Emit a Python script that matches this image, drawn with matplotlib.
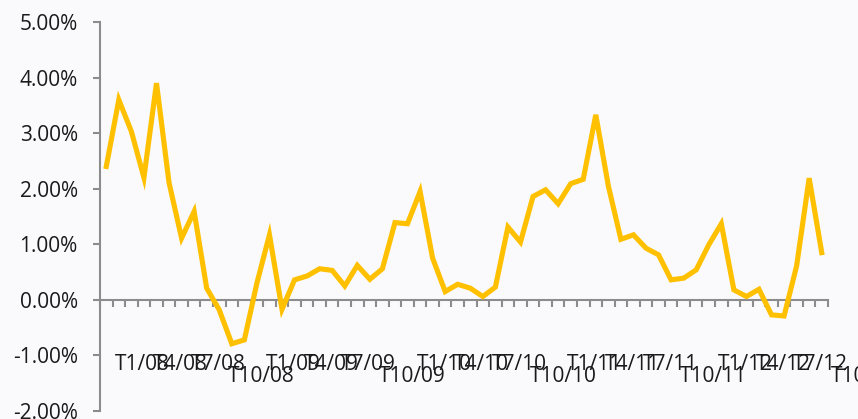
import matplotlib
matplotlib.use("Agg")
import matplotlib.pyplot as plt
import matplotlib.transforms as mtransforms
import numpy as np

# Variacion mensual, ene-2008 a oct-2012 (en %)
valores = [
    2.40, 3.60, 3.03, 2.20, 3.90, 2.11, 1.11, 1.59, 0.21, -0.18, -0.79, -0.72,
    0.30, 1.17, -0.17, 0.36, 0.43, 0.56, 0.53, 0.25, 0.62, 0.37, 0.56, 1.39,
    1.37, 1.95, 0.75, 0.15, 0.28, 0.21, 0.06, 0.23, 1.31, 1.04, 1.86, 1.98,
    1.73, 2.09, 2.17, 3.33, 2.05, 1.09, 1.17, 0.93, 0.81, 0.36, 0.39, 0.54,
    0.99, 1.37, 0.18, 0.06, 0.19, -0.27, -0.29, 0.61, 2.19, 0.85,
]
anios = ["08", "09", "10", "11", "12"]
meses = ["T1", "T4", "T7", "T10"]
etiquetas = [f"{m}/{a}" for a in anios for m in meses]
y_ticks = [-2, -1, 0, 1, 2, 3, 4, 5]

GRIS = "#8c8c8c"
ORO = "#FFC000"

plt.rcParams["font.family"] = ["Open Sans", "DejaVu Sans"]

fig = plt.figure(figsize=(8.58, 4.19), dpi=100, facecolor="#fafafc")
ax = fig.add_axes([100 / 858, 8 / 419, 728 / 858, 389 / 419])
ax.set_facecolor("none")

x = np.arange(len(valores))
ax.plot(x, valores, color=ORO, lw=3.7, solid_joinstyle="miter", zorder=3)

ax.set_xlim(-0.5, len(valores) - 0.5)
ax.set_ylim(-2, 5)

# ejes
for s in ["top", "right"]:
    ax.spines[s].set_visible(False)
ax.spines["bottom"].set_position(("data", 0))
ax.spines["bottom"].set_color(GRIS)
ax.spines["bottom"].set_linewidth(1.5)
ax.spines["left"].set_color(GRIS)
ax.spines["left"].set_linewidth(1.5)

ax.set_yticks(y_ticks)
ax.set_yticklabels([f"{v:.2f}%" for v in y_ticks])
ax.tick_params(axis="y", direction="out", length=5, width=1.5, color=GRIS,
               pad=11, labelsize=15, labelcolor="#1a1a1a")

ax.set_xticks(np.arange(-0.5, len(valores), 1.0))
ax.set_xticklabels([])
ax.tick_params(axis="x", direction="out", length=5, width=1.5, color=GRIS)

# etiquetas de categoria, cada 3 meses; T10 en segunda fila
off = mtransforms.ScaledTranslation(9 / 100, 0, fig.dpi_scale_trans)
for i, lab in enumerate(etiquetas):
    fila2 = lab.startswith("T10")
    yv = -1.385 if fila2 else -1.16
    ax.text(i * 3, yv, lab, ha="left", va="center", fontsize=15,
            color="#1a1a1a", transform=ax.transData + off, clip_on=False)

fig.savefig("out.png", dpi=100, facecolor=fig.get_facecolor())
